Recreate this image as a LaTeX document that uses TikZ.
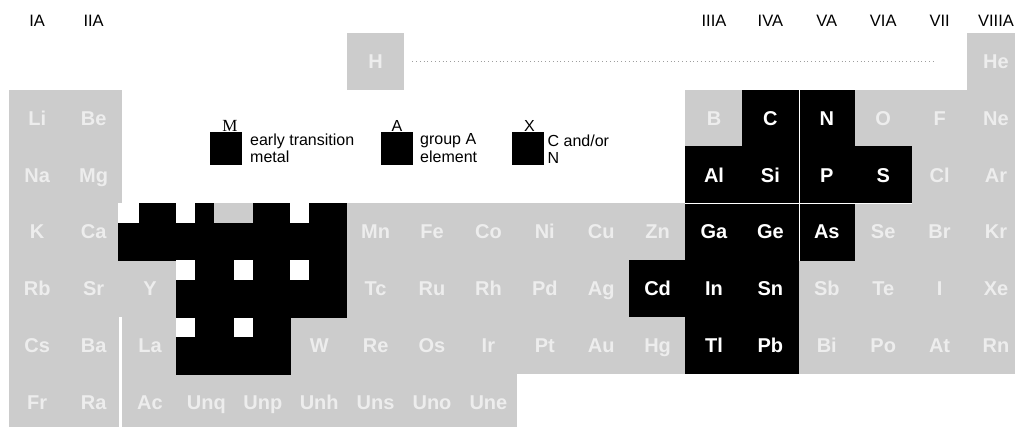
\documentclass[tikz,border=0pt]{standalone}
\usepackage{fontspec}
\setmainfont{Liberation Sans}
\newfontfamily\lserif{Liberation Serif}
\definecolor{tgray}{gray}{0.80}
\definecolor{tgtext}{gray}{0.93}
\definecolor{dotgray}{gray}{0.62}
\begin{document}
\begin{tikzpicture}[x=1pt,y=-1pt,
  cellbase/.style={minimum width=57.2pt,minimum height=57.4pt,inner sep=0pt,outer sep=0pt,text height=14.3pt,text depth=0pt,font=\bfseries\fontsize{20}{20}\selectfont},
  gcell/.style={cellbase,fill=tgray,text=tgtext},
  acell/.style={cellbase,fill=black,text=white},
  mcell/.style={cellbase,fill=black,minimum width=57.8pt,minimum height=57.2pt},
  grp/.style={font=\fontsize{16.5}{16.5}\selectfont,anchor=base,inner sep=0pt},
  legbox/.style={fill=black,minimum width=32pt,minimum height=33pt,inner sep=0pt,outer sep=0pt,anchor=north west},
  legtxt/.style={font=\fontsize{16}{16}\selectfont,anchor=base west,inner sep=0pt},
  leglet/.style={font=\fontsize{16}{16}\selectfont,anchor=base,inner sep=0pt},
  notch/.style={fill=white},
  sepline/.style={white,line width=0.8pt},
  dotline/.style={dotgray,line width=0.8pt,dash pattern=on 0.8pt off 3pt}
]
\useasboundingbox (0,0) rectangle (1015,426);
\clip (0,0) rectangle (1015,426);
\fill[white] (0,0) rectangle (1015,426);

% group labels
\foreach \g/\c in {IA/1,IIA/2,IIIA/13,IVA/14,VA/15,VIA/16,VII/17,VIIIA/18}
  \node[grp] (g\g) at ({9+(\c-0.5)*56.4},26.7) {\g};

% grey (other) elements
\foreach \s/\c/\r in {H/7/1,He/18/1,
  Li/1/2,Be/2/2,B/13/2,O/16/2,F/17/2,Ne/18/2,
  Na/1/3,Mg/2/3,Cl/17/3,Ar/18/3,
  K/1/4,Ca/2/4,Mn/7/4,Fe/8/4,Co/9/4,Ni/10/4,Cu/11/4,Zn/12/4,Se/16/4,Br/17/4,Kr/18/4,
  Rb/1/5,Sr/2/5,Y/3/5,Tc/7/5,Ru/8/5,Rh/9/5,Pd/10/5,Ag/11/5,Sb/15/5,Te/16/5,I/17/5,Xe/18/5,
  Cs/1/6,Ba/2/6,La/3/6,W/6/6,Re/7/6,Os/8/6,Ir/9/6,Pt/10/6,Au/11/6,Hg/12/6,Bi/15/6,Po/16/6,At/17/6,Rn/18/6,
  Fr/1/7,Ra/2/7,Ac/3/7,Unq/4/7,Unp/5/7,Unh/6/7,Uns/7/7,Uno/8/7,Une/9/7}
  \node[gcell] (\s) at ({9+(\c-0.5)*56.4},{33+(\r-0.5)*56.8}) {\s};

% A and X elements
\foreach \s/\c/\r in {C/14/2,N/15/2,Al/13/3,Si/14/3,P/15/3,S/16/3,
  Ga/13/4,Ge/14/4,As/15/4,Cd/12/5,In/13/5,Sn/14/5,Tl/13/6,Pb/14/6}
  \node[acell] (\s) at ({9+(\c-0.5)*56.4},{33+(\r-0.5)*56.8}) {\s};

% M elements
\foreach \s/\x/\y in {Sc/147/232,Ti/205/232,V/262.5/232,Cr/318.5/232,
  Zr/205/289,Nb/262.5/289,Mo/318.5/289,Hf/205/346.5,Ta/262.5/346.5}
  \node[mcell] (\s) at (\x,\y) {};

% notches of the M block
\fill[notch] (Sc.north west) rectangle ++(21,20);
\fill[notch] (Ti.north west) rectangle ++(19,20);
\fill[tgray] ([xshift=-20pt]Ti.north east) rectangle ++(39,20);
\fill[notch] (Cr.north west) rectangle ++(19,20);
\fill[notch] (Zr.north west) rectangle ++(19,20);
\fill[notch] (Nb.north west) rectangle ++(19,20);
\fill[notch] (Mo.north west) rectangle ++(19,20);
\fill[notch] (Hf.north west) rectangle ++(19,19);
\fill[notch] (Ta.north west) rectangle ++(19,19);

% separators
\fill[white] (118.5,317) rectangle (122.2,430);
\draw[sepline] (C.north east) -- (Ge.south east);
\draw[sepline] (Al.south west) -- (S.south east);

% H -- He dotted line
\draw[dotline,shorten <=8pt,shorten >=33pt] (H) -- (He);

% legend
\node[leglet,font=\lserif\fontsize{17}{17}\selectfont] (Mlet) at (230,131) {M};
\node[legbox] (Mbox) at (210,132) {};
\node[legtxt] (Mt1) at (250,145) {early transition};
\node[legtxt] (Mt2) at (250,162) {metal};
\node[leglet] (Alet) at (397,131) {A};
\node[legbox] (Abox) at (380.5,132) {};
\node[legtxt] (At1) at (420,144.5) {group A};
\node[legtxt] (At2) at (420,162.5) {element};
\node[leglet] (Xlet) at (529.5,131) {X};
\node[legbox] (Xbox) at (511.5,132) {};
\node[legtxt] (Xt1) at (547.5,146) {C and/or};
\node[legtxt] (Xt2) at (547.5,163) {N};
\end{tikzpicture}
\end{document}
